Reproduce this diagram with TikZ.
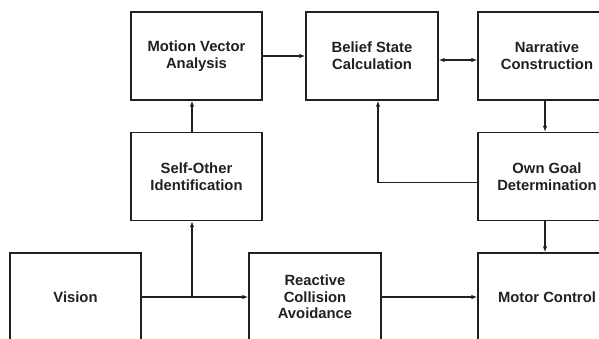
\documentclass[tikz,border=0pt]{standalone}
\usepackage{fontspec}
\setmainfont{Liberation Sans}
\usetikzlibrary{arrows.meta,calc,positioning}
\definecolor{inkcolor}{RGB}{35,31,32}
\tikzstyle{block}=[draw=inkcolor,line width=1.3pt,minimum width=131pt,minimum height=88pt,inner sep=0pt,align=center,text=inkcolor,font=\fontsize{14.8}{16.7}\selectfont\bfseries]
\tikzstyle{wide block}=[block,minimum width=138pt]
\tikzstyle{flow}=[-{Latex[length=6pt,width=4.5pt]},line width=1.4pt,draw=inkcolor]
\tikzstyle{thick flow}=[flow,line width=2.3pt]

\begin{document}
\begin{tikzpicture}[x=1pt,y=-1pt]
\def\topRow{56}
\def\midRow{176.5}
\def\lowRow{297}
\def\leftCol{75.5}
\def\secondCol{196.5}
\def\thirdCol{372}
\def\rightCol{547}

    \clip (0,0) rectangle (599,338);

    % upper row
    \node[block] (MVA) at (\secondCol,\topRow) {Motion Vector\\Analysis};
    \node[block, minimum width=132pt] (BSC) at (\thirdCol,\topRow) {Belief State\\Calculation};
    \node[wide block] (NC) at (\rightCol,\topRow) {Narrative\\Construction};

    % middle row
    \node[block] (SOI) at (\secondCol,\midRow) {Self-Other\\Identification};
    \node[wide block] (OGD) at (\rightCol,\midRow) {Own Goal\\Determination};

    % lower row
    \node[block] (V) at (\leftCol,\lowRow) {Vision};
    \node[block, minimum width=132pt] (RCA) at (315,\lowRow) {Reactive\\Collision\\Avoidance};
    \node[wide block] (MC) at (\rightCol,\lowRow) {Motor Control};

    \coordinate (split) at (192,\lowRow);

    \draw[thick flow] (V.east) -- (RCA.west);
    \draw[flow] (split) -- (split |- SOI.south);
    \draw[flow] ([xshift=-4.5pt]SOI.north) -- ([xshift=-4.5pt]MVA.south);
    \draw[thick flow] (MVA.east) -- (BSC.west);
    \draw[flow, {Latex[length=6pt,width=4.5pt]}-{Latex[length=6pt,width=4.5pt]}] ([yshift=-4pt]BSC.east) -- ([yshift=-4pt]NC.west);
    \draw[thick flow] ([xshift=-2pt]NC.south) -- ([xshift=-2pt]OGD.north);
    \draw[flow] ([yshift=-6pt]OGD.west) -| ([xshift=6pt]BSC.south);
    \draw[flow] ([xshift=-2pt]OGD.south) -- ([xshift=-2pt]MC.north);
    \draw[flow] (RCA.east) -- (MC.west);

\end{tikzpicture}
\end{document}
